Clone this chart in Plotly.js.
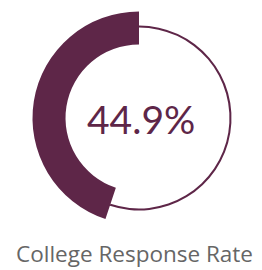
<!DOCTYPE html>
<html>
<head>
<meta charset="utf-8">
<script src="https://cdn.plot.ly/plotly-3.0.1.min.js"></script>
<style>html,body{margin:0;padding:0;background:#fff;}#chart{width:262px;height:270px;}</style>
</head>
<body>
<div id="chart"></div>
<script>
// Data
const labels = ["Not responded", "Responded"];
const responseRate = [55.1, 44.9];
const centerLabel = "44.9%";
const chartLabel = "College Response Rate";

const purple = "#5e2648";

const traces = [
  // thin full ring (the whole 100%)
  {
    type: "pie",
    labels: labels,
    values: responseRate,
    sort: false,
    direction: "clockwise",
    rotation: 0,
    hole: 0.978,
    marker: { colors: [purple, purple], line: { width: 0 } },
    textinfo: "none",
    hoverinfo: "none",
    showlegend: false,
    domain: { x: [46.5/262, 231.5/262], y: [59.5/270, 244.5/270] }
  },
  // thick response arc
  {
    type: "pie",
    labels: labels,
    values: responseRate,
    sort: false,
    direction: "clockwise",
    rotation: 0,
    hole: 0.69,
    marker: { colors: ["rgba(0,0,0,0)", purple], line: { width: 0 } },
    textinfo: "none",
    hoverinfo: "none",
    showlegend: false,
    domain: { x: [32.5/262, 245.5/262], y: [45.5/270, 258.5/270] }
  }
];

const layout = {
  width: 262,
  height: 270,
  margin: { l: 0, r: 0, t: 0, b: 0 },
  paper_bgcolor: "#ffffff",
  plot_bgcolor: "#ffffff",
  showlegend: false,
  annotations: [
    {
      text: centerLabel,
      x: 141/262, y: (270-119)/270,
      xref: "paper", yref: "paper",
      xanchor: "center", yanchor: "middle",
      showarrow: false,
      font: { family: "Lato, sans-serif", size: 39, color: purple }
    },
    {
      text: chartLabel,
      x: 134/262, y: (270-253)/270,
      xref: "paper", yref: "paper",
      xanchor: "center", yanchor: "middle",
      showarrow: false,
      font: { family: "Open Sans, sans-serif", size: 22.5, color: "#666666" }
    }
  ]
};

Plotly.newPlot("chart", traces, layout, { displayModeBar: false, staticPlot: true });
</script>
</body>
</html>
